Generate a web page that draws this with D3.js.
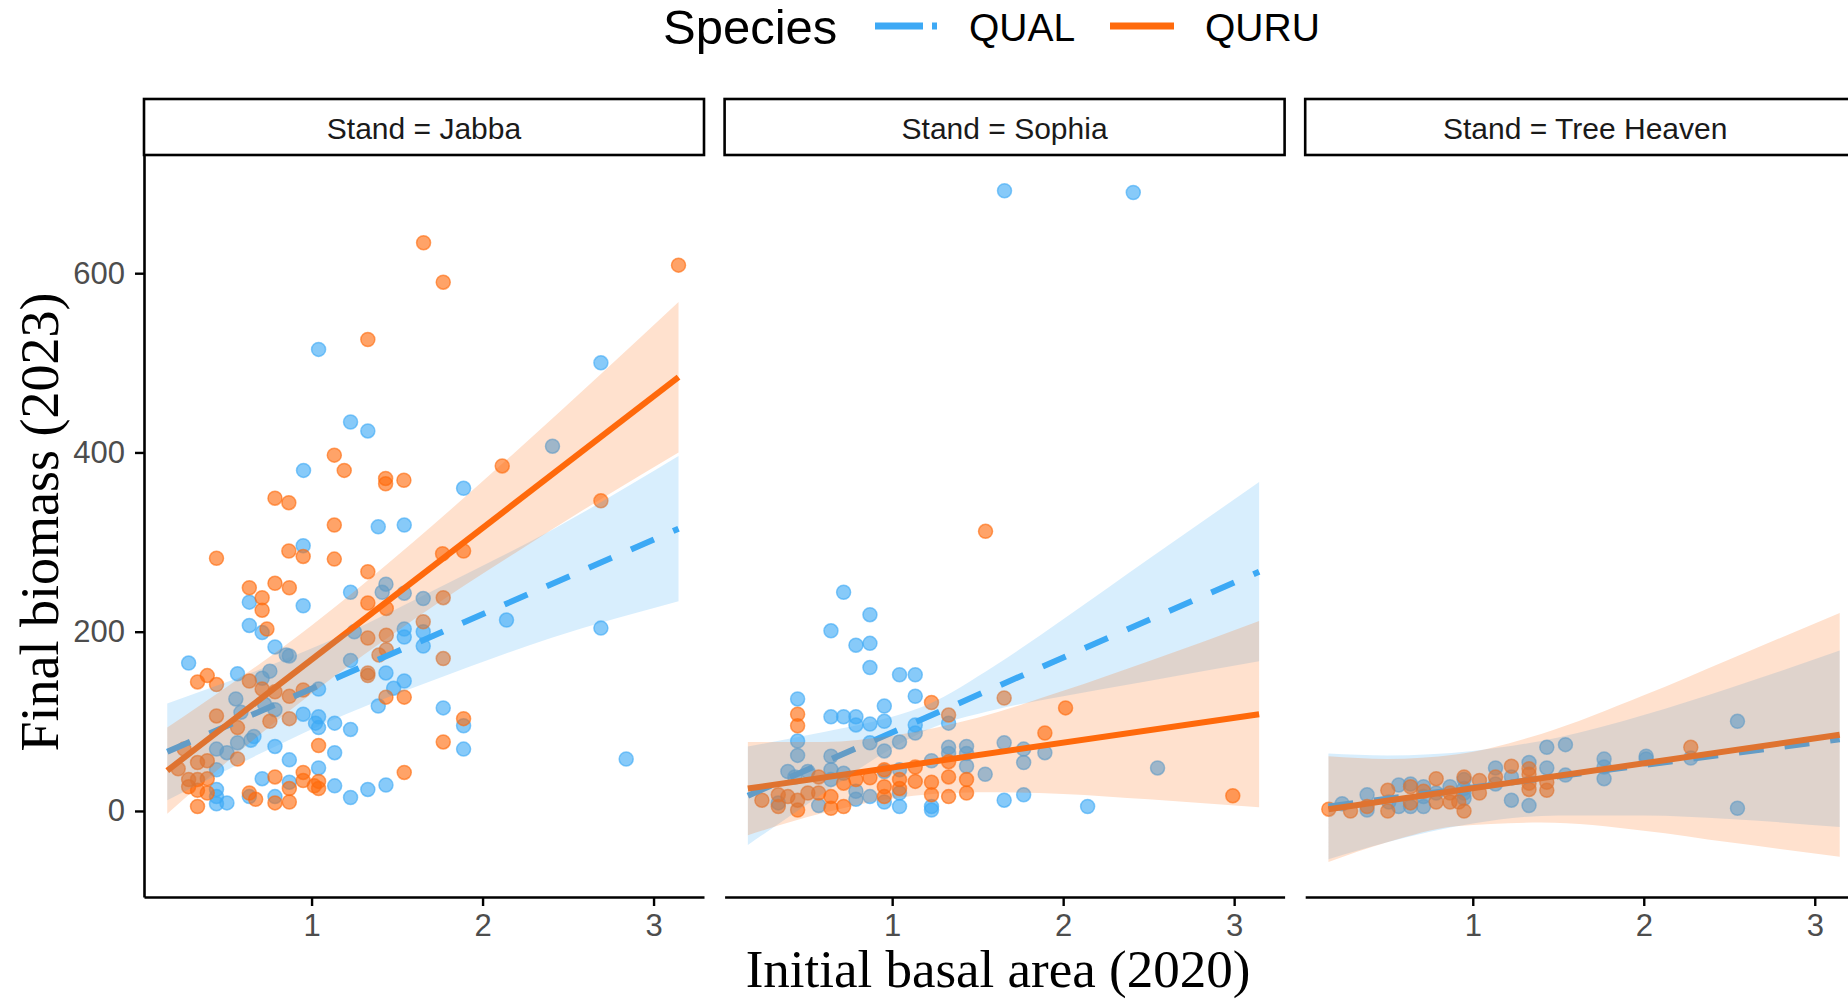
<!DOCTYPE html>
<html>
<head>
<meta charset="utf-8">
<script src="https://cdn.jsdelivr.net/npm/d3@7"></script>
<style>
  html, body { margin: 0; padding: 0; background: #fff; }
  svg { display: block; }
</style>
</head>
<body>
<script>
// ---- Data: initial basal area (2020) vs final biomass (2023), per stand & species ----
const stands = ["Jabba", "Sophia", "Tree Heaven"];
const speciesNames = ["QUAL", "QURU"];
const xTicks = [1, 2, 3];
const yTicks = [0, 200, 400, 600];

// observed trees: [basal area, biomass]
const jabbaQUAL = [[1.041,515],[1.228,434],[1.329,424],[0.953,380],[1.889,360],[2.409,407],[2.692,500],[1.390,317],[1.542,319],
  [0.951,296],[1.228,244],[1.435,253],[1.413,244],[1.542,243],[1.653,237],[0.636,233],[0.951,229],[2.140,213],[2.692,204],
  [0.636,207],[0.711,199],[1.250,200],[1.542,203],[1.542,194],[1.653,200],[1.653,184],[0.786,183],[0.852,174],[0.870,173],
  [0.281,165],[1.228,168],[0.567,153],[0.756,156],[0.711,148],[1.435,154],[1.542,145],[1.480,137],[1.041,136],[1.390,117],
  [1.770,115],[0.557,125],[0.725,119],[0.786,113],[0.587,110],[0.951,108],[1.041,105],[1.023,98],[1.041,93],[1.135,98],
  [1.228,91],[1.889,95],[1.889,69],[2.840,58],[0.663,83],[0.645,79],[0.567,76],[0.786,72],[0.444,69],[0.505,65],[1.135,65],
  [0.870,57],[0.444,46],[1.041,48],[0.711,36],[1.135,28],[1.329,24],[1.435,29],[1.228,15],[0.444,24],[0.444,16],[0.444,8],
  [0.505,9],[0.636,16],[0.786,16],[0.870,32]];
const jabbaQURU = [[1.655,634],[1.770,590],[1.329,526],[1.133,397],[1.191,380],[1.433,371],[1.433,365],[1.540,369],[0.786,349],
  [0.867,344],[1.133,319],[2.115,385],[2.692,346],[3.146,609],[0.444,282],[0.867,290],[0.951,284],[1.133,281],[1.329,267],
  [1.766,287],[1.889,290],[0.636,249],[0.786,254],[0.870,249],[0.711,238],[0.711,224],[0.739,203],[1.329,232],[1.437,226],
  [1.770,238],[1.653,211],[1.329,193],[1.437,196],[1.437,180],[1.394,174],[1.770,170],[1.329,154],[1.329,151],[0.390,151],
  [0.333,144],[0.444,141],[0.636,145],[0.711,136],[0.786,133],[0.870,128],[0.951,135],[1.435,127],[1.542,127],[0.444,106],
  [0.567,93],[0.756,100],[0.870,103],[1.889,103],[1.041,73],[1.770,77],[0.255,69],[0.220,47],[0.333,54],[0.390,56],[0.567,58],
  [0.281,35],[0.333,35],[0.390,36],[0.281,27],[0.333,23],[0.390,20],[0.333,5],[0.786,38],[0.951,43],[0.951,34],[1.041,33],
  [1.041,25],[1.016,28],[0.870,25],[0.636,20],[0.673,13],[0.786,9],[0.870,10],[1.542,43]];

const sophiaQUAL = [[1.657,692],[2.410,690],[0.716,244],[0.870,219],[0.642,201],[0.788,185],[0.870,187],[0.870,160],[1.043,152],
  [1.135,152],[1.135,128],[0.447,125],[0.642,105],[0.716,105],[0.788,105],[0.788,96],[0.870,97],[0.954,117],[0.954,100],
  [1.135,96],[1.135,87],[1.330,98],[0.447,78],[0.447,62],[0.870,76],[1.043,77],[0.954,67],[1.330,71],[1.330,64],[1.435,72],
  [1.435,64],[1.655,76],[1.769,69],[1.769,54],[1.893,65],[0.642,61],[0.390,44],[0.507,44],[0.642,46],[1.230,56],[1.435,50],
  [1.544,41],[2.552,48],[1.043,46],[0.954,44],[0.716,42],[0.431,38],[0.642,35],[0.788,22],[0.870,16],[0.954,10],[1.043,20],
  [1.043,5],[1.230,5],[1.230,1],[1.655,12],[1.769,18],[2.143,5],[0.570,6],[0.334,9],[0.788,13]];
const sophiaQURU = [[1.546,312],[0.447,108],[0.447,95],[1.230,121],[1.330,107],[1.655,126],[2.014,115],[1.893,87],[2.992,17],
  [1.330,55],[1.330,38],[1.330,16],[1.435,35],[1.435,20],[1.230,32],[1.230,18],[1.135,49],[1.135,33],[1.043,35],[1.043,25],
  [0.954,46],[0.954,27],[0.954,16],[0.870,37],[0.788,35],[0.716,31],[0.716,5],[0.642,16],[0.642,3],[0.570,38],[0.570,20],
  [0.507,20],[0.447,12],[0.447,1],[0.334,18],[0.334,5],[0.238,12],[0.390,16]];

const heavenQUAL = [[2.548,100],[2.548,3],[1.433,71],[1.542,74],[1.768,58],[1.768,49],[1.768,36],[2.014,61],[2.014,58],[2.275,59],
  [1.542,40],[1.433,48],[1.329,54],[1.329,6],[1.226,12],[1.226,38],[1.133,48],[1.133,30],[0.949,35],[0.949,25],[0.949,20],
  [0.949,14],[0.867,27],[0.786,20],[0.712,27],[0.712,5],[0.636,30],[0.636,5],[0.567,29],[0.567,5],[0.509,10],[0.382,18],
  [0.382,1],[0.236,8],[0.712,16]];
const heavenQURU = [[2.275,71],[1.329,47],[1.329,41],[1.329,31],[1.329,24],[1.433,32],[1.433,23],[1.226,50],[1.133,38],[1.039,34],
  [1.039,20],[0.949,38],[0.949,0],[0.867,20],[0.867,10],[0.786,36],[0.786,10],[0.712,22],[0.636,27],[0.636,9],[0.503,23],
  [0.503,0],[0.382,5],[0.285,0],[0.158,2],[0.918,10]];

// linear fits: value at the ends of the common x range
const fitX = [0.156, 3.146];
const jabbaFitQUAL = [66, 315];
const jabbaFitQURU = [45, 484];
const sophiaFitQUAL = [17, 267];
const sophiaFitQURU = [25, 108];
const heavenFitQUAL = [5, 80];
const heavenFitQURU = [2, 85];

// 95% confidence bands: x, lower, upper
const jabbaBandQUALx  = [0.156, 0.7, 1.2, 1.7, 2.4, 3.146];
const jabbaBandQUALlo = [12, 64, 108, 145, 193, 234];
const jabbaBandQUALhi = [120, 158, 198, 245, 313, 396];
const jabbaBandQURUx  = [0.156, 0.6, 1.0, 1.6, 2.2, 2.7, 3.146];
const jabbaBandQURUlo = [-3, 70, 131, 214, 289, 349, 400];
const jabbaBandQURUhi = [93, 151, 207, 301, 402, 489, 568];
const sophiaBandQUALx  = [0.156, 0.6, 1.0, 1.2, 1.6, 2.0, 2.5, 3.146];
const sophiaBandQUALlo = [-38, 20, 70, 90, 113, 128, 145, 167];
const sophiaBandQUALhi = [72, 88, 105, 118, 162, 214, 281, 367];
const sophiaBandQURUx  = [0.156, 0.6, 1.0, 1.5, 2.0, 2.5, 3.146];
const sophiaBandQURUlo = [-27, -2, 14, 21, 19, 13, 4];
const sophiaBandQURUhi = [77, 77, 84, 104, 134, 167, 212];
const heavenBandQUALx  = [0.156, 0.5, 1.0, 1.5, 2.0, 2.5, 3.146];
const heavenBandQUALlo = [-54, -35, -14, -5, -5, -9, -18];
const heavenBandQUALhi = [64, 62, 67, 82, 107, 137, 179];
const heavenBandQURUx  = [0.156, 0.5, 0.9, 1.4, 2.0, 2.5, 3.146];
const heavenBandQURUlo = [-57, -35, -17, -13, -22, -35, -51];
const heavenBandQURUhi = [61, 58, 63, 86, 129, 169, 221];

// ---- assemble per-panel structures ----
function band(xs, lo, hi) { return xs.map((x, i) => ({ x, lo: lo[i], hi: hi[i] })); }
const panels = [
  { name: stands[0], pts: [jabbaQUAL, jabbaQURU], fit: [jabbaFitQUAL, jabbaFitQURU],
    band: [band(jabbaBandQUALx, jabbaBandQUALlo, jabbaBandQUALhi), band(jabbaBandQURUx, jabbaBandQURUlo, jabbaBandQURUhi)] },
  { name: stands[1], pts: [sophiaQUAL, sophiaQURU], fit: [sophiaFitQUAL, sophiaFitQURU],
    band: [band(sophiaBandQUALx, sophiaBandQUALlo, sophiaBandQUALhi), band(sophiaBandQURUx, sophiaBandQURUlo, sophiaBandQURUhi)] },
  { name: stands[2], pts: [heavenQUAL, heavenQURU], fit: [heavenFitQUAL, heavenFitQURU],
    band: [band(heavenBandQUALx, heavenBandQUALlo, heavenBandQUALhi), band(heavenBandQURUx, heavenBandQURUlo, heavenBandQURUhi)] }
];

// ---- layout ----
const W = 1848, H = 1002;
const colors = ["#3DA9F5", "#FF6A0C"];
const sans = "'Liberation Sans', Arial, Helvetica, sans-serif";
const serif = "'Liberation Serif', 'Times New Roman', Times, serif";
const panelW = 560, panelStep = 580.6, panel0 = 144;
const plotTop = 154, plotBottom = 897;
const stripTop = 99, stripH = 56;

const svg = d3.select("body").append("svg").attr("width", W).attr("height", H);

const x = d3.scaleLinear().domain([0.02, 3.295]).range([0, panelW]);
const y = d3.scaleLinear().domain([-96, 733]).range([plotBottom, plotTop]);

panels.forEach((p, i) => {
  const left = panel0 + i * panelStep;
  const g = svg.append("g").attr("transform", `translate(${left},0)`);

  const clipId = "clip" + i;
  svg.append("clipPath").attr("id", clipId)
    .append("rect").attr("x", left).attr("y", plotTop).attr("width", panelW).attr("height", plotBottom - plotTop);
  const body = svg.append("g").attr("clip-path", `url(#${clipId})`)
    .append("g").attr("transform", `translate(${left},0)`);

  // points
  p.pts.forEach((pts, s) => {
    body.append("g").selectAll("circle").data(pts).join("circle")
      .attr("cx", d => x(d[0])).attr("cy", d => y(d[1])).attr("r", 7)
      .attr("fill", colors[s]).attr("fill-opacity", 0.62)
      .attr("stroke", colors[s]).attr("stroke-opacity", 0.62).attr("stroke-width", 1.5);
  });

  // fitted lines (QUAL dashed, QURU solid)
  p.fit.forEach((f, s) => {
    body.append("path")
      .datum(fitX.map((xv, k) => [xv, f[k]]))
      .attr("d", d3.line().x(d => x(d[0])).y(d => y(d[1])))
      .attr("fill", "none").attr("stroke", colors[s]).attr("stroke-width", 6)
      .attr("stroke-dasharray", s === 0 ? "25,21" : null);
  });

  // confidence bands
  const area = d3.area().curve(d3.curveMonotoneX)
    .x(d => x(d.x)).y0(d => y(d.lo)).y1(d => y(d.hi));
  p.band.forEach((b, s) => {
    body.append("path").datum(b).attr("d", area)
      .attr("fill", colors[s]).attr("fill-opacity", 0.2).attr("stroke", "none");
  });

  // x axis
  const xa = g.append("g").attr("transform", `translate(0,${plotBottom})`)
    .call(d3.axisBottom(x).tickValues(xTicks).tickFormat(d3.format("d")).tickSize(9).tickSizeOuter(0).tickPadding(8));
  xa.select(".domain").attr("stroke", "#000").attr("stroke-width", 2.6);
  xa.selectAll(".tick line").attr("stroke", "#000").attr("stroke-width", 2.4);
  xa.selectAll(".tick text").attr("fill", "#4D4D4D").style("font-family", sans).style("font-size", "31px");

  // strip
  g.append("rect").attr("x", 0).attr("y", stripTop).attr("width", panelW).attr("height", stripH)
    .attr("fill", "#fff").attr("stroke", "#000").attr("stroke-width", 2.6);
  g.append("text").attr("x", panelW / 2).attr("y", stripTop + 40)
    .attr("text-anchor", "middle").style("font-family", sans).style("font-size", "30px").attr("fill", "#1A1A1A")
    .text("Stand = " + p.name);

  // y axis on first panel only
  if (i === 0) {
    const ya = g.append("g")
      .call(d3.axisLeft(y).tickValues(yTicks).tickSize(9).tickSizeOuter(0).tickPadding(10));
    ya.select(".domain").attr("stroke", "#000").attr("stroke-width", 2.6);
    ya.selectAll(".tick line").attr("stroke", "#000").attr("stroke-width", 2.4);
    ya.selectAll(".tick text").attr("fill", "#4D4D4D").style("font-family", sans).style("font-size", "31px");
  }
});

// axis titles
svg.append("text").attr("x", 998).attr("y", 987).attr("text-anchor", "middle")
  .style("font-family", serif).style("font-size", "53px").attr("fill", "#000")
  .text("Initial basal area (2020)");
svg.append("text").attr("transform", "translate(58,522) rotate(-90)").attr("text-anchor", "middle")
  .style("font-family", serif).style("font-size", "54px").attr("fill", "#000")
  .text("Final biomass (2023)");

// legend
const lg = svg.append("g");
lg.append("text").attr("x", 663).attr("y", 44).style("font-family", sans).style("font-size", "49px").attr("fill", "#000")
  .text("Species");
const keys = [{ x0: 875, x1: 937, tx: 969 }, { x0: 1110, x1: 1174, tx: 1205 }];
speciesNames.forEach((name, s) => {
  const k = keys[s];
  lg.append("line").attr("x1", k.x0).attr("x2", k.x1).attr("y1", 26).attr("y2", 26)
    .attr("stroke", colors[s]).attr("stroke-width", 7)
    .attr("stroke-dasharray", s === 0 ? "48,9" : null);
  lg.append("text").attr("x", k.tx).attr("y", 41).style("font-family", sans).style("font-size", "39px").attr("fill", "#000")
    .text(name);
});
</script>
</body>
</html>
